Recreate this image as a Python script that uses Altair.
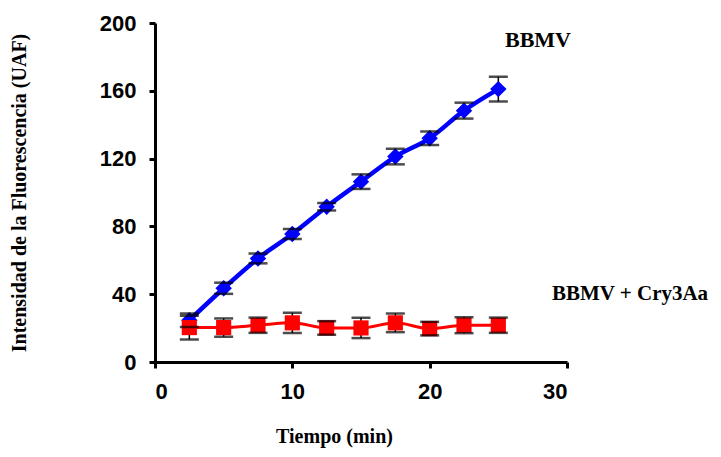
import altair as alt
import pandas as pd

tiempo = [2.5, 5, 7.5, 10, 12.5, 15, 17.5, 20, 22.5, 25]
bbmv = [24.6, 43.5, 61.1, 75.5, 91.6, 106.4, 121.2, 132.0, 148.3, 161.0]
bbmv_err = [4.0, 3.3, 2.9, 3.0, 2.2, 4.3, 4.6, 4.0, 4.7, 7.3]
cry = [20.3, 20.3, 21.7, 23.1, 20.1, 20.1, 23.1, 19.7, 21.7, 21.7]
cry_err = [7.0, 5.4, 4.5, 6.0, 4.0, 6.0, 5.5, 4.0, 4.7, 4.5]

series_names = ["BBMV", "BBMV + Cry3Aa"]
colors = ["#0000FF", "#FF0000"]

rows = []
for t, v, e in zip(tiempo, bbmv, bbmv_err):
    rows.append({"t": t, "v": v, "lo": v - e, "hi": v + e, "s": series_names[0]})
for t, v, e in zip(tiempo, cry, cry_err):
    rows.append({"t": t, "v": v, "lo": v - e, "hi": v + e, "s": series_names[1]})
df = pd.DataFrame(rows)

serif = "Liberation Serif"

xs = alt.X("t:Q", scale=alt.Scale(domain=[0, 30]),
           axis=alt.Axis(values=[0, 10, 20, 30], title="Tiempo (min)",
                         titleFont=serif, titleFontSize=20, titleFontWeight="bold",
                         labelPadding=13,
                         titlePadding=24, titleX=179, titleAnchor="middle", titleAlign="center"))
ys = alt.Y("v:Q", scale=alt.Scale(domain=[0, 200]),
           axis=alt.Axis(values=[0, 40, 80, 120, 160, 200],
                         title="Intensidad de la Fluorescencia (UAF)",
                         titleFont=serif, titleFontSize=20, titleFontWeight="bold",
                         labelPadding=13,
                         titlePadding=70))
color = alt.Color("s:N", scale=alt.Scale(domain=series_names, range=colors), legend=None)

base = alt.Chart(df)

lines = base.mark_line(interpolate="monotone").encode(
    x=xs, y=ys, color=color,
    strokeWidth=alt.StrokeWidth("s:N", scale=alt.Scale(domain=series_names, range=[4.5, 3]), legend=None),
)
points = base.mark_point(filled=True, opacity=1).encode(
    x=xs, y=ys, color=color,
    shape=alt.Shape("s:N", scale=alt.Scale(domain=series_names, range=["diamond", "square"]), legend=None),
    size=alt.Size("s:N", scale=alt.Scale(domain=series_names, range=[270, 230]), legend=None),
)
rules = base.mark_rule(color="black", strokeWidth=1.5).encode(
    x="t:Q", y="lo:Q", y2="hi:Q")
caps_lo = base.mark_tick(color="black", thickness=2.5, size=19, orient="horizontal").encode(
    x="t:Q", y="lo:Q")
caps_hi = base.mark_tick(color="black", thickness=2.5, size=19, orient="horizontal").encode(
    x="t:Q", y="hi:Q")

lab_df = pd.DataFrame({"s": series_names})
lab1 = alt.Chart(lab_df).transform_filter(alt.datum.s == series_names[0]).mark_text(
    font=serif, fontWeight="bold", fontSize=22, color="black").encode(
    text="s:N", x=alt.value(383), y=alt.value(17))
lab2 = alt.Chart(lab_df).transform_filter(alt.datum.s == series_names[1]).mark_text(
    font=serif, fontWeight="bold", fontSize=21, color="black").encode(
    text="s:N", x=alt.value(475), y=alt.value(271))

chart = alt.layer(lines, rules, points, caps_lo, caps_hi, lab1, lab2).properties(
    width=412, height=339,
    autosize=alt.AutoSizeParams(type="none"),
    padding={"left": 147, "top": 15, "right": 146, "bottom": 87},
).configure_view(stroke=None).configure_axis(
    grid=False,
    domainColor="black", domainWidth=3,
    tickColor="black", tickWidth=3, tickSize=6,
    labelFont="Liberation Sans", labelFontWeight="bold", labelFontSize=22, labelColor="black",
    titleColor="black",
)

chart.save("out.html", embed_options={"renderer": "svg", "actions": False})
